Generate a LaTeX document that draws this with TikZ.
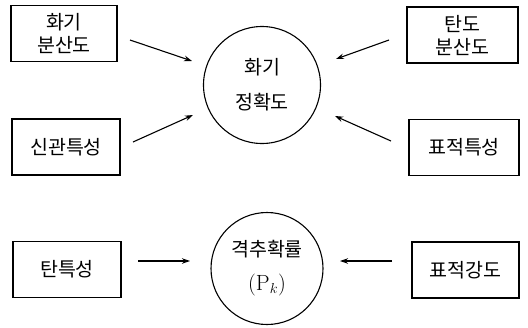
\documentclass[tikz,border=0pt]{standalone}
\usepackage{fontspec}
\newfontfamily\kr{Noto Sans CJK KR}
\usetikzlibrary{arrows.meta}
\tikzset{
  box/.style={draw, line width=1.2pt, minimum width=#1, minimum height=56pt, inner sep=0pt, align=center, font=\kr\fontsize{19.5}{23}\selectfont},
  box/.default=107pt,
  ring/.style={draw, circle, line width=1.1pt, minimum size=#1, inner sep=0pt, align=center, font=\kr\fontsize{19.5}{24}\selectfont},
  ring/.default=116pt,
  arr/.style={line width=1.1pt, -{Stealth[length=8pt,width=5.5pt]}}
}
\begin{document}
\begin{tikzpicture}[x=1pt,y=-1pt]
\useasboundingbox (0,0) rectangle (528,327);
% top group
\node[box=106pt] (b1) at (64,33.5) {화기\\분산도};
\node[box=108pt] (b2) at (66,147) {신관특성};
\node[box=111pt] (b3) at (462.5,35) {탄도\\분산도};
\node[box=110pt] (b4) at (464,147.5) {표적특성};
\node[ring=117pt] (c1) at (262,85) {화기\\[11pt]정확도};
\coordinate (a1s) at (130,40);  \coordinate (a1e) at (192,61);
\coordinate (a2s) at (133,142); \coordinate (a2e) at (193,115);
\coordinate (a3s) at (389,40);  \coordinate (a3e) at (336,59);
\coordinate (a4s) at (391,141); \coordinate (a4e) at (335,116);
\draw[arr] (a1s) -- (a1e);
\draw[arr] (a2s) -- (a2e);
\draw[arr] (a3s) -- (a3e);
\draw[arr] (a4s) -- (a4e);
% bottom group
\node[box=108pt] (b5) at (67,269.5) {탄특성};
\node[box=107pt] (b6) at (465.5,270) {표적강도};
\node[ring=112pt] (c2) at (267,268.5) {격추확률\\[10pt]{\fontsize{22}{24}\selectfont\rmfamily (P$_{k}$)}};
\coordinate (a5s) at (138,261); \coordinate (a5e) at (190,261);
\coordinate (a6s) at (392,261); \coordinate (a6e) at (340,261);
\draw[arr] (a5s) -- (a5e);
\draw[arr] (a6s) -- (a6e);
\end{tikzpicture}
\end{document}
